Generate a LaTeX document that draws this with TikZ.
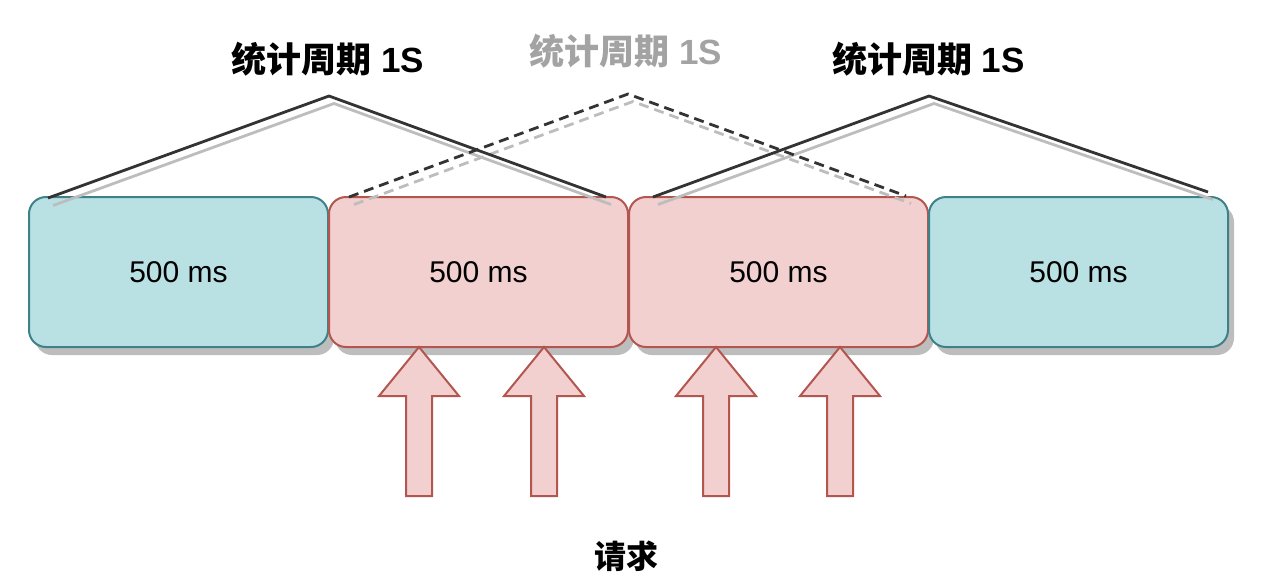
\documentclass[tikz,border=0pt]{standalone}
\usepackage{fontspec}
\setmainfont{Liberation Sans}
\newfontfamily\cjk{Noto Sans CJK SC}
\definecolor{tealF}{HTML}{B9E1E4}
\definecolor{tealS}{HTML}{3E8187}
\definecolor{redF}{HTML}{F2D0CF}
\definecolor{redS}{HTML}{B3564F}
\definecolor{shadowC}{HTML}{BDBDBD}
\definecolor{darkL}{HTML}{333333}
\definecolor{grayT}{HTML}{A3A3A3}
\newcommand{\periodtext}{{\cjk 统计周期} \rmfamily 1S}
\tikzset{
  boxbase/.style={line width=2pt, rounded corners=17pt, minimum width=299pt, minimum height=150pt, inner sep=0pt, font=\fontsize{30}{32}\selectfont},
  tbox/.style={boxbase, draw=tealS, fill=tealF},
  rbox/.style={boxbase, draw=redS, fill=redF},
  boxshadow/.style={fill=shadowC, rounded corners=17pt},
  darkline/.style={draw=darkL, line width=2.8pt, line join=miter},
  lightline/.style={draw=shadowC, line width=2.8pt, line join=miter},
  dashpat/.style={dash pattern=on 10pt off 6pt},
  title/.style={font=\bfseries\fontsize{35}{37}\selectfont, inner sep=0pt},
  arrowpath/.style={draw=redS, fill=redF, line width=2pt, line join=miter},
  uparrow/.pic={\path[arrowpath] (0,0) -- (40,49) -- (13,49) -- (13,149) -- (-13,149) -- (-13,49) -- (-40,49) -- cycle;}
}
\begin{document}
\begin{tikzpicture}[x=1pt, y=-1pt]
\useasboundingbox (0,0) rectangle (1274,582);
% shadows
\foreach \cx in {178.5,478.5,778.5,1078.5}{
  \fill[boxshadow] (\cx-149.5+6,197+8) rectangle (\cx+149.5+6,347+8);
}
% boxes
\node[tbox] (b1) at (178.5,272) {500 ms};
\node[rbox] (b2) at (478.5,272) {500 ms};
\node[rbox] (b3) at (778.5,272) {500 ms};
\node[tbox] (b4) at (1078.5,272) {500 ms};
% arrows
\pic (a1) at (419,347) {uparrow};
\pic (a2) at (544,347) {uparrow};
\pic (a3) at (716,347) {uparrow};
\pic (a4) at (840,347) {uparrow};
% line coordinates
\coordinate (p1a) at (48,198);
\coordinate (p1b) at (329,96);
\coordinate (p1c) at (606,197);
\coordinate (p2a) at (349,197);
\coordinate (p2b) at (628,94);
\coordinate (p2c) at (906,196);
\coordinate (p3a) at (653,197);
\coordinate (p3b) at (929,96);
\coordinate (p3c) at (1208,192);
% shadow lines
\draw[lightline] ([shift={(5,7.5)}]p1a) -- ([shift={(5,7.5)}]p1b) -- ([shift={(5,7.5)}]p1c);
\draw[lightline, dashpat] ([shift={(5,7.5)}]p2a) -- ([shift={(5,7.5)}]p2b) -- ([shift={(5,7.5)}]p2c);
\draw[lightline] ([shift={(5,7.5)}]p3a) -- ([shift={(5,7.5)}]p3b) -- ([shift={(5,7.5)}]p3c);
% dark lines
\draw[darkline] (p1a) -- (p1b) -- (p1c);
\draw[darkline, dashpat] (p2a) -- (p2b) -- (p2c);
\draw[darkline] (p3a) -- (p3b) -- (p3c);
% titles
\node[title] (t1) at (328,59) {\periodtext};
\node[title, text=grayT] (t2) at (626,51) {\periodtext};
\node[title] (t3) at (928.5,59) {\periodtext};
\node[title, font=\cjk\bfseries\fontsize{32}{34}\selectfont] (req) at (626,556) {请求};
\end{tikzpicture}
\end{document}
